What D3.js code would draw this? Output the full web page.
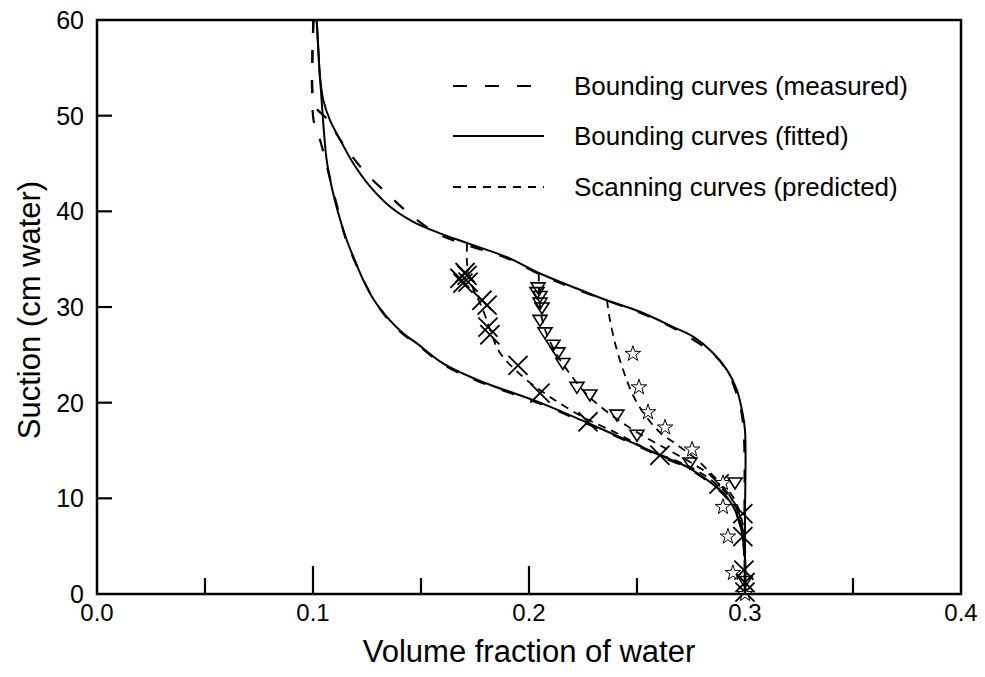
<!DOCTYPE html>
<html>
<head>
<meta charset="utf-8">
<script src="https://cdn.jsdelivr.net/npm/d3@7"></script>
<style>
  html, body { margin: 0; padding: 0; background: #fff; }
  text { font-family: "Liberation Sans", Arial, Helvetica, sans-serif; fill: #000; }
</style>
</head>
<body>
<svg id="chart" width="985" height="677"></svg>
<script>
// Axis ticks
const xMajorTicks = [0.0, 0.1, 0.2, 0.3, 0.4];
const xMinorTicks = [0.05, 0.15, 0.25, 0.35];
const yTicks = [0, 10, 20, 30, 40, 50, 60];

// Bounding curves, fitted: [volume fraction, suction]
const fittedDrying = [[0.1017,60],[0.1025,56.9],[0.1032,54.1],[0.1048,51.6],[0.1079,49.5],[0.1125,47.5],[0.1187,45.0],[0.1264,42.6],[0.1356,40.5],[0.1464,38.9],[0.1588,37.7],[0.1711,36.7],[0.1898,35.2],[0.2051,33.5],[0.2236,31.8],[0.2360,30.7],[0.2514,29.5],[0.2668,27.9],[0.2760,26.9],[0.2852,25.2],[0.2917,23.4],[0.2963,21.3],[0.2986,19.2],[0.3000,17.1],[0.3,8],[0.3,0]];
const fittedWetting = [[0.1017,60],[0.1029,55.1],[0.1040,51.6],[0.1051,48.2],[0.1063,45.4],[0.1086,42.6],[0.1117,39.8],[0.1156,37.0],[0.1195,34.8],[0.1235,32.7],[0.1275,31.0],[0.1315,29.7],[0.1356,28.6],[0.1420,27.2],[0.1481,26.2],[0.1602,24.1],[0.1759,22.4],[0.2051,20.0],[0.2269,17.9],[0.2481,15.8],[0.2606,14.5],[0.2731,13.3],[0.2838,11.7],[0.2917,10.1],[0.2963,8.3],[0.2986,6.4],[0.3,3.6],[0.3,0]];

// Bounding curves, measured
const measuredDrying = [[0.1002,60],[0.0997,56],[0.0997,52.5],[0.1015,50.8],[0.1063,49.7],[0.1140,47.0],[0.1233,44.3],[0.1341,41.9],[0.1449,39.7],[0.1573,37.7],[0.1711,36.5],[0.1898,35.1],[0.2051,33.4],[0.2236,31.7],[0.2514,29.4],[0.2668,27.8],[0.2852,25.1],[0.2917,23.3],[0.2960,21.0],[0.2990,18.0],[0.2998,8],[0.2998,0]];
const measuredWetting = [[0.1002,60],[0.0997,56],[0.0997,52],[0.1003,49.5],[0.1036,47.2],[0.1072,44.0],[0.1112,40.5],[0.1152,37.1],[0.1197,34.6],[0.1238,32.6],[0.1278,30.9],[0.1317,29.6],[0.1356,28.5],[0.1420,27.1],[0.1481,26.1],[0.1602,24.0],[0.1759,22.3],[0.2051,19.9],[0.2269,17.8],[0.2481,15.7],[0.2606,14.4],[0.2731,13.2],[0.2838,11.6],[0.2917,10.0],[0.2963,8.2],[0.2986,6.3],[0.2998,3.6],[0.2998,0]];

// Scanning curves, predicted
const scanCross = [[0.1713,36.6],[0.1713,34.6],[0.1727,32.8],[0.1787,29.7],[0.1820,27.6],[0.1866,25.2],[0.1972,22.7],[0.2097,20.6],[0.2250,18.5],[0.2407,16.8],[0.2560,15.0],[0.2745,13.3],[0.2860,11.6],[0.2954,9.4],[0.2990,6.7],[0.3,3.6],[0.3,0]];
const scanTriangle = [[0.2045,33.5],[0.2048,31],[0.2058,29],[0.2085,27],[0.2130,25],[0.2190,23],[0.2270,20.8],[0.2400,18.4],[0.2530,16.5],[0.2650,15.0],[0.2760,13.6],[0.2860,12.1],[0.2940,10.3],[0.2985,7.8],[0.3,5],[0.3,0]];
const scanStar = [[0.2361,30.7],[0.2375,28.6],[0.2407,25.5],[0.2444,22.9],[0.2481,20.8],[0.2537,18.7],[0.2606,16.9],[0.2685,15.6],[0.2769,14.2],[0.2838,12.7],[0.2907,11.0],[0.2963,8.8],[0.2990,6.2],[0.3,3.6],[0.3,0]];

// Observed scanning points
const crossTheta = [0.1680,0.1704,0.1718,0.1694,0.1713,0.1782,0.1806,0.1810,0.1819,0.1949,0.2051,0.2273,0.2606,0.2880,0.2990,0.2990,0.2995,0.3000,0.3000];
const crossSuction = [33.0,33.6,32.6,32.5,33.3,30.7,30.2,27.9,27.1,23.9,21.0,18.0,14.5,11.5,8.4,6.0,2.5,1.2,0.2];
const triTheta = [0.2042,0.2037,0.2051,0.2051,0.2060,0.2051,0.2074,0.2111,0.2134,0.2157,0.2222,0.2282,0.2407,0.2500,0.2745,0.2954,0.3000];
const triSuction = [32.0,31.5,31.1,30.4,29.9,28.6,27.3,26.0,25.2,24.1,21.6,20.8,18.7,16.6,13.7,11.6,1.3];
const starTheta = [0.2481,0.2509,0.2551,0.2630,0.2755,0.2898,0.2898,0.2921,0.2944,0.3000];
const starSuction = [25.1,21.6,19.0,17.4,15.1,11.6,9.1,6.0,2.2,0.0];

// Legend entries
const legendLabels = ["Bounding curves (measured)", "Bounding curves (fitted)", "Scanning curves (predicted)"];

const svg = d3.select("#chart");
const frame = { left: 97, right: 961, top: 20, bottom: 594 };

const x = d3.scaleLinear().domain([0, 0.4]).range([frame.left, frame.right]);
const y = d3.scaleLinear().domain([0, 60]).range([frame.bottom, frame.top]);

const line = d3.line()
  .x(d => x(d[0]))
  .y(d => y(d[1]))
  .curve(d3.curveCatmullRom.alpha(0.5));

svg.append("clipPath").attr("id", "clip")
  .append("rect").attr("x", frame.left).attr("y", frame.top)
  .attr("width", frame.right - frame.left).attr("height", frame.bottom - frame.top);
const curves = svg.append("g").attr("clip-path", "url(#clip)");

const styles = {
  measured: { w: 2.2, dash: "13,17" },
  fitted: { w: 2.0, dash: null },
  scanning: { w: 1.8, dash: "8,6" }
};

function drawCurve(data, st) {
  curves.append("path")
    .datum(data)
    .attr("d", line)
    .attr("fill", "none")
    .attr("stroke", "#000")
    .attr("stroke-width", st.w)
    .attr("stroke-dasharray", st.dash);
}

drawCurve(fittedDrying, styles.fitted);
drawCurve(fittedWetting, styles.fitted);
drawCurve(measuredDrying, styles.measured);
drawCurve(measuredWetting, styles.measured);
drawCurve(scanCross, styles.scanning);
drawCurve(scanTriangle, styles.scanning);
drawCurve(scanStar, styles.scanning);

// Markers
const marks = svg.append("g");
const crossSym = d3.symbol().type(d3.symbolX).size(240);
const starSym = d3.symbol().type(d3.symbolStar).size(75);

marks.selectAll(".cross").data(d3.zip(crossTheta, crossSuction)).join("path")
  .attr("class", "cross")
  .attr("d", crossSym)
  .attr("transform", d => `translate(${x(d[0])},${y(d[1])})`)
  .attr("fill", "none").attr("stroke", "#000").attr("stroke-width", 1.8);

// downward-pointing triangle
const triPath = "M-7,-5L7,-5L0,6Z";
marks.selectAll(".tri").data(d3.zip(triTheta, triSuction)).join("path")
  .attr("class", "tri")
  .attr("d", triPath)
  .attr("transform", d => `translate(${x(d[0])},${y(d[1])})`)
  .attr("fill", "none").attr("stroke", "#000").attr("stroke-width", 1.6);

marks.selectAll(".star").data(d3.zip(starTheta, starSuction)).join("path")
  .attr("class", "star")
  .attr("d", starSym)
  .attr("transform", d => `translate(${x(d[0])},${y(d[1])})`)
  .attr("fill", "#fff").attr("stroke", "#000").attr("stroke-width", 1);

// Frame
svg.append("rect")
  .attr("x", frame.left).attr("y", frame.top)
  .attr("width", frame.right - frame.left).attr("height", frame.bottom - frame.top)
  .attr("fill", "none").attr("stroke", "#000").attr("stroke-width", 2.5);

// Ticks (inward)
const ax = svg.append("g").attr("stroke", "#000").attr("stroke-width", 2.2);
ax.selectAll(".xmaj").data(xMajorTicks.slice(1, -1)).join("line")
  .attr("x1", d => x(d)).attr("x2", d => x(d)).attr("y1", frame.bottom).attr("y2", frame.bottom - 28);
ax.selectAll(".xmin").data(xMinorTicks).join("line")
  .attr("x1", d => x(d)).attr("x2", d => x(d)).attr("y1", frame.bottom).attr("y2", frame.bottom - 16);
ax.selectAll(".ytk").data(yTicks.slice(1, -1)).join("line")
  .attr("x1", frame.left).attr("x2", frame.left + 15).attr("y1", d => y(d)).attr("y2", d => y(d));

// Tick labels
svg.selectAll(".xlab").data(xMajorTicks).join("text")
  .attr("x", d => x(d)).attr("y", 621)
  .attr("text-anchor", "middle").attr("font-size", 24)
  .text(d3.format(".1f"));
svg.selectAll(".ylab").data(yTicks).join("text")
  .attr("x", 84).attr("y", d => y(d)).attr("dy", "0.36em")
  .attr("text-anchor", "end").attr("font-size", 25)
  .text(d => d);

// Axis titles
svg.append("text").attr("x", (frame.left + frame.right) / 2).attr("y", 662)
  .attr("text-anchor", "middle").attr("font-size", 31)
  .text("Volume fraction of water");
svg.append("text").attr("transform", `translate(40,${(frame.top + frame.bottom) / 2 + 3}) rotate(-90)`)
  .attr("text-anchor", "middle").attr("font-size", 31)
  .text("Suction (cm water)");

// Legend
const legendRows = [86, 136, 187];
const legendStyles = [styles.measured, styles.fitted, styles.scanning];
const legendEnds = [531, 544, 544];
const lg = svg.append("g");
legendLabels.forEach((lab, i) => {
  lg.append("line")
    .attr("x1", 453).attr("x2", legendEnds[i]).attr("y1", legendRows[i]).attr("y2", legendRows[i])
    .attr("stroke", "#000").attr("stroke-width", legendStyles[i].w)
    .attr("stroke-dasharray", i === 0 ? "14,18" : (i === 2 ? "8,7" : null));
  lg.append("text").attr("x", 574).attr("y", legendRows[i]).attr("dy", "0.35em")
    .attr("font-size", 26).text(lab);
});
</script>
</body>
</html>
